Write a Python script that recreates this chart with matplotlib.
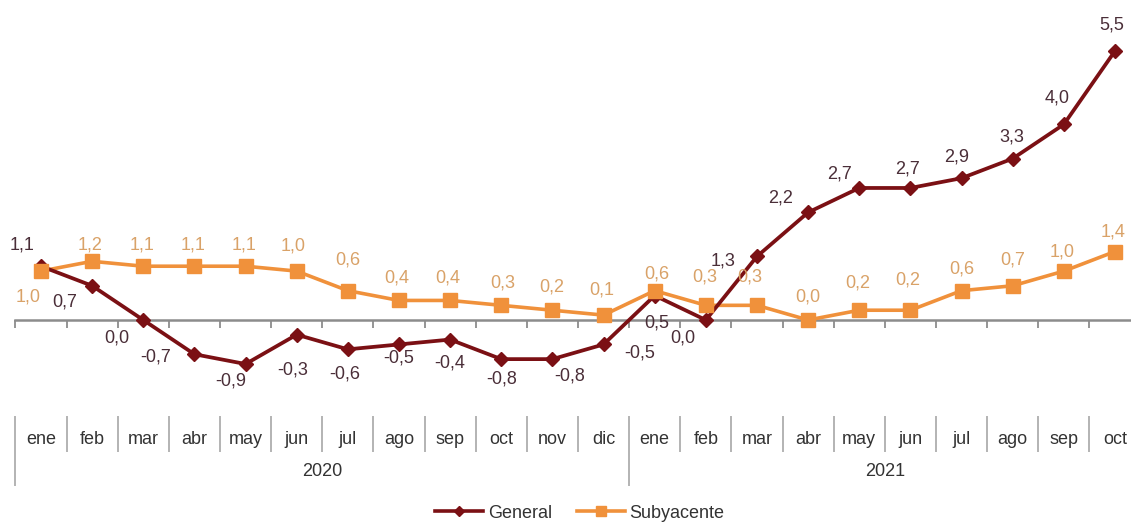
import matplotlib
matplotlib.use("Agg")
import matplotlib.pyplot as plt
from matplotlib.transforms import blended_transform_factory
from matplotlib.lines import Line2D

# ---------------- data ----------------
months = ["ene", "feb", "mar", "abr", "may", "jun", "jul", "ago", "sep", "oct", "nov", "dic",
          "ene", "feb", "mar", "abr", "may", "jun", "jul", "ago", "sep", "oct"]
years = ["2020", "2021"]
year_len = [12, 10]
general = [1.1, 0.7, 0.0, -0.7, -0.9, -0.3, -0.6, -0.5, -0.4, -0.8, -0.8, -0.5,
           0.5, 0.0, 1.3, 2.2, 2.7, 2.7, 2.9, 3.3, 4.0, 5.5]
subyacente = [1.0, 1.2, 1.1, 1.1, 1.1, 1.0, 0.6, 0.4, 0.4, 0.3, 0.2, 0.1,
              0.6, 0.3, 0.3, 0.0, 0.2, 0.2, 0.6, 0.7, 1.0, 1.4]

# label offsets in pixels (dx, dy, screen y downward)
gen_off = [(-19, -21), (-27, 16), (-26, 18), (-39, 3), (-15, 17), (-4, 35), (-3, 25), (0, 14),
           (0, 23), (0, 20), (17, 17), (36, 9), (2, 27), (-23, 18), (-34, 5), (-28, -14),
           (-20, -14), (-3, -19), (-5, -21), (-1, -22), (-7, -26), (-3, -26)]
sub_off = [(-13, 26), (-2, -16), (-1, -21), (-1, -21), (-1, -21), (-4, -25), (0, -31), (-2, -22),
           (-2, -22), (1, -22), (-1, -23), (-2, -25), (2, -17), (-1, -28), (-7, -28), (0, -23),
           (-1, -27), (-3, -30), (0, -22), (0, -26), (-2, -19), (-2, -20)]

GEN_C = "#7b1014"
SUB_C = "#f0913b"
GEN_LBL = "#4a2e38"
SUB_LBL = "#d9a268"
TXT = "#333333"

plt.rcParams["font.family"] = ["Liberation Sans", "DejaVu Sans"]

W, H = 1131, 522
fig = plt.figure(figsize=(W / 100, H / 100), dpi=100)

n = len(months)
step = 51.14
x0 = 41.0 - step / 2
ax = fig.add_axes([x0 / W, 0, step * n / W, 1])
ppu = 48.9
zero_px = 320
ax.set_xlim(-0.5, n - 0.5)
ax.set_ylim(-(H - zero_px) / ppu, zero_px / ppu)
ax.patch.set_alpha(0)

for s in ["top", "right", "left"]:
    ax.spines[s].set_visible(False)
ax.spines["bottom"].set_position(("data", 0))
ax.spines["bottom"].set_color("#8c8c8c")
ax.spines["bottom"].set_linewidth(1.8)
ax.set_yticks([])
ax.set_xticks([i + 0.5 for i in range(-1, n)])
ax.set_xticklabels([])
ax.tick_params(axis="x", direction="out", length=6, width=1.3, color="#8c8c8c")

x = list(range(n))
# lines
ax.plot(x, subyacente, color=SUB_C, lw=2.6, zorder=3, solid_joinstyle="round")
ax.plot(x, general, color=GEN_C, lw=2.7, zorder=4, solid_joinstyle="round")
# markers
ax.plot(x, general, ls="none", marker="D", ms=7.5, color=GEN_C, zorder=5)
ax.plot(x, subyacente, ls="none", marker="s", ms=10, color=SUB_C, zorder=6)

def fmt(v):
    return f"{v:.1f}".replace(".", ",")

for i, v in enumerate(general):
    dx, dy = gen_off[i]
    ax.annotate(fmt(v), (i, v), xytext=(dx, -dy), textcoords="offset pixels",
                ha="center", va="center", fontsize=13, color=GEN_LBL, zorder=7)
for i, v in enumerate(subyacente):
    dx, dy = sub_off[i]
    ax.annotate(fmt(v), (i, v), xytext=(dx, -dy), textcoords="offset pixels",
                ha="center", va="center", fontsize=13, color=SUB_LBL, zorder=7)

# category table below
tr = blended_transform_factory(ax.transData, fig.transFigure)
def fy(p):
    return 1 - p / H

sep_c = "#b3b3b3"
for i, m in enumerate(months):
    ax.text(i, fy(439), m, transform=tr, ha="center", va="center", fontsize=13, color=TXT)
year_starts = [0]
for L in year_len[:-1]:
    year_starts.append(year_starts[-1] + L)
for b in range(n + 1):
    xb = b - 0.5
    long = b in year_starts or b == n
    ax.add_line(Line2D([xb, xb], [fy(417), fy(485 if long else 451)], transform=tr,
                       color=sep_c, lw=1.4, clip_on=False))
for yr, st, L in zip(years, year_starts, year_len):
    ax.text(st + (L - 1) / 2, fy(472), yr, transform=tr, ha="center", va="center",
            fontsize=13, color=TXT)

# legend
h1 = Line2D([], [], color=GEN_C, lw=2.6, marker="D", ms=5)
h2 = Line2D([], [], color=SUB_C, lw=2.6, marker="s", ms=7)
fig.legend([h1, h2], ["General", "Subyacente"], loc="center",
           bbox_to_anchor=(580 / W, 1 - 513 / H), ncol=2, frameon=False,
           fontsize=13, handlelength=2.65, handletextpad=0.25, columnspacing=1.4,
           labelcolor=TXT, borderpad=0)

fig.savefig("out.png", dpi=100)
